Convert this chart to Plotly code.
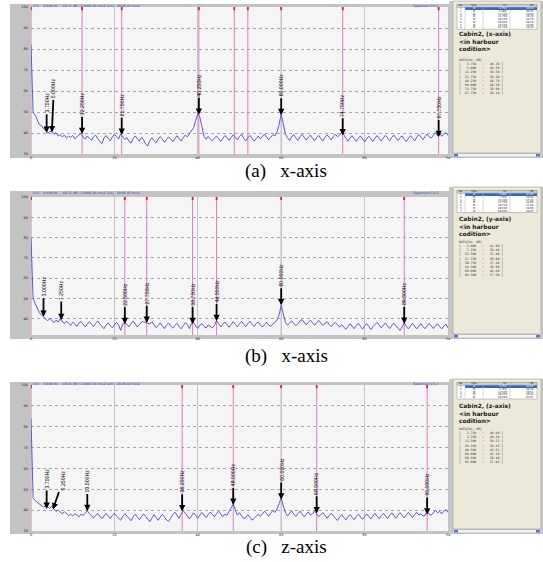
import plotly.graph_objects as go

# ---------------- data ----------------
BIN_HZ = 0.5  # analyser line spacing (Hz)

SPEC_A_DB = [
    82.0, 50.0, 48.5, 46.5, 44.0, 43.5, 42.0, 41.5, 39.8, 40.6,
    40.9, 39.4, 40.2, 38.6, 39.3, 38.1, 39.0, 37.6, 38.5, 37.9,
    38.8, 37.2, 38.4, 39.1, 39.8, 38.0, 37.1, 38.6, 37.4, 36.5,
    38.2, 39.0, 37.3, 35.8, 34.9, 37.6, 38.8, 37.5, 36.2, 38.1,
    39.4, 38.3, 37.1, 39.6, 38.5, 36.9, 37.8, 36.0, 35.2, 37.4,
    38.6, 37.3, 36.1, 37.9, 36.8, 34.6, 33.8, 36.5, 37.7, 36.4,
    35.3, 37.2, 38.3, 37.0, 35.6, 36.9, 38.1, 37.2, 35.9, 37.3,
    38.7, 37.4, 36.2, 37.8, 39.0, 38.2, 39.5, 40.8, 42.6, 46.0,
    49.2, 47.5, 42.0, 38.3, 37.0, 38.4, 37.1, 36.3, 37.6, 38.5,
    37.2, 36.0, 37.4, 38.8, 37.9, 36.5, 37.8, 39.2, 38.0, 36.7,
    38.3, 39.4, 37.6, 36.2, 37.7, 38.9, 37.5, 36.1, 37.3, 38.6,
    37.2, 38.4, 39.5, 38.1, 36.8, 38.0, 39.2, 38.6, 40.5, 44.0,
    49.0, 44.5, 39.6, 37.8, 36.4, 38.1, 39.3, 37.7, 36.5, 38.2,
    39.4, 38.0, 36.6, 37.9, 39.0, 37.6, 36.3, 37.8, 38.9, 37.4,
    36.2, 37.9, 39.1, 38.0, 36.7, 38.3, 39.4, 38.2, 39.0, 40.3,
    39.2, 37.5, 36.1, 37.6, 38.7, 37.3, 36.0, 37.4, 38.6, 37.1,
    35.8, 37.3, 38.5, 37.2, 36.0, 37.5, 38.8, 37.4, 36.2, 37.7,
    38.9, 37.6, 36.3, 37.9, 39.0, 37.7, 36.4, 37.8, 38.6, 37.0,
    35.9, 37.4, 38.7, 37.5, 36.2, 38.0, 39.3, 38.1, 36.8, 38.3,
    39.5, 38.2, 37.6, 39.0, 40.1, 38.6, 39.8, 38.4, 39.6, 40.2,
    38.8,
]

SPEC_B_DB = [
    80.0, 50.0, 47.5, 45.0, 43.0, 41.8, 41.0, 40.2, 39.0, 40.4,
    39.1, 38.0, 39.3, 38.4, 40.0, 38.7, 37.5, 38.9, 37.6, 36.8,
    38.3, 37.5, 36.2, 37.8, 38.6, 37.0, 36.0, 37.4, 38.5, 37.3,
    36.1, 37.7, 38.9, 37.4, 36.0, 35.1, 36.8, 38.0, 36.7, 35.5,
    36.9, 38.2, 37.0, 34.2, 37.5, 37.6, 37.3, 36.0, 37.6, 38.9,
    37.5, 35.9, 37.2, 38.4, 38.6, 38.2, 37.6, 37.4, 38.5, 37.0,
    35.6, 36.8, 38.0, 36.5, 35.2, 36.9, 37.9, 36.4, 35.4, 36.7,
    37.8, 36.3, 35.0, 36.6, 38.0, 37.2, 35.1, 37.8, 38.2, 36.4,
    35.3, 36.9, 37.6, 36.2, 35.4, 37.0, 36.1, 35.5, 36.8, 39.2,
    37.5, 36.0, 37.3, 38.4, 37.1, 35.8, 37.2, 38.5, 37.2, 36.0,
    37.5, 38.7, 37.4, 36.1, 37.6, 38.8, 37.3, 36.2, 37.7, 38.4,
    37.0, 35.9, 37.2, 38.3, 37.0, 36.2, 37.5, 38.1, 39.4, 42.0,
    46.6, 42.5, 38.3, 36.8, 37.9, 39.0, 37.8, 36.5, 37.6, 38.9,
    39.6, 38.3, 37.0, 38.2, 39.3, 38.0, 36.8, 38.1, 39.2, 37.9,
    36.7, 37.8, 38.6, 37.2, 36.1, 37.3, 38.2, 37.0, 35.9, 37.1,
    36.0, 34.8, 36.2, 37.5, 36.4, 35.1, 36.6, 37.8, 36.3, 34.9,
    36.4, 37.6, 36.2, 34.7, 36.1, 37.4, 38.3, 36.9, 35.5, 36.8,
    37.9, 36.5, 35.2, 36.6, 37.8, 36.6, 35.3, 34.2, 36.0, 38.0,
    36.3, 35.0, 36.5, 37.7, 36.3, 35.0, 36.4, 37.6, 36.2, 35.1,
    36.5, 37.7, 36.4, 35.2, 36.6, 37.5, 36.1, 35.0, 36.4, 37.4,
    35.5,
]

SPEC_C_DB = [
    84.0, 46.0, 44.5, 43.8, 43.0, 42.2, 41.5, 42.0, 41.6, 40.8,
    41.9, 40.5, 39.4, 40.1, 39.0, 38.2, 39.3, 38.5, 37.4, 38.0,
    37.2, 38.3, 37.5, 36.8, 38.1, 37.4, 38.6, 39.7, 38.4, 37.0,
    36.2, 37.5, 38.3, 37.1, 35.9, 37.2, 38.4, 37.3, 36.0, 37.4,
    38.5, 37.1, 36.0, 35.2, 37.0, 38.3, 37.2, 35.8, 34.9, 36.8,
    38.0, 36.6, 35.4, 36.9, 38.2, 37.0, 35.6, 34.4, 36.2, 37.8,
    36.5, 35.1, 36.7, 38.0, 36.8, 35.3, 34.6, 36.4, 37.9, 39.0,
    37.6, 36.2, 38.0, 39.8, 38.5, 37.0, 35.8, 37.3, 38.7, 37.5,
    36.1, 37.6, 38.9, 37.7, 36.4, 37.9, 39.1, 38.0, 36.8, 38.3,
    39.5, 38.2, 36.9, 38.1, 37.6, 39.4, 41.2, 42.8, 40.1, 37.6,
    38.8, 37.4, 35.9, 36.4, 37.8, 36.6, 35.2, 36.0, 37.3, 38.1,
    37.0, 38.4, 39.5, 38.3, 37.1, 38.6, 39.8, 38.9, 40.6, 43.2,
    45.8, 42.0, 39.0, 37.2, 38.5, 39.6, 38.2, 37.0, 38.4, 39.5,
    38.1, 36.8, 38.0, 39.1, 37.6, 38.2, 39.6, 38.4, 36.9, 37.8,
    38.8, 37.5, 36.1, 37.4, 38.5, 37.2, 35.9, 35.0, 36.6, 37.9,
    36.5, 35.3, 36.8, 37.9, 36.6, 35.4, 36.9, 38.1, 36.8, 35.6,
    37.0, 38.2, 37.0, 35.8, 37.2, 38.4, 37.1, 35.9, 37.4, 38.5,
    37.2, 36.0, 37.5, 38.7, 37.4, 36.1, 37.6, 38.8, 37.5, 36.3,
    37.7, 38.9, 37.6, 36.4, 37.9, 39.0, 37.7, 38.3, 37.1, 37.6,
    39.2, 38.0, 37.6, 38.9, 40.0, 38.7, 39.4, 38.2, 39.6, 40.3,
    38.9,
]

A_MARK_HZ = [3.750, 5.000, 12.250, 21.750, 40.250, 60.000, 74.750, 97.750]
A_MARK_DB = [40.10, 40.30, 39.50, 39.20, 48.70, 48.50, 38.90, 38.10]
A_LINES_HZ = [0.0, 12.25, 21.75, 40.25, 48.75, 52.0, 60.0, 74.75, 97.75]

B_MARK_HZ = [3.000, 7.250, 22.500, 27.750, 38.750, 44.500, 60.000, 89.500]
B_MARK_DB = [41.00, 39.40, 37.40, 38.00, 37.40, 38.90, 46.60, 37.50]
B_LINES_HZ = [0.0, 22.5, 27.75, 38.75, 44.5, 60.0, 89.5]

C_MARK_HZ = [3.750, 5.250, 13.500, 36.250, 48.500, 60.000, 68.500, 95.000]
C_MARK_DB = [40.60, 40.30, 39.53, 39.43, 42.51, 45.10, 38.48, 37.93]
C_LINES_HZ = [0.0, 36.25, 48.5, 60.0, 68.5, 95.0]

TITLES = ["Cabin2, (x-axis)", "Cabin2, (y-axis)", "Cabin2, (z-axis)"]
CAPTIONS = ["(a)\u00a0\u00a0\u00a0x-axis", "(b)\u00a0\u00a0\u00a0x-axis", "(c)\u00a0\u00a0\u00a0z-axis"]
TABLE_ROWS = [8, 7, 5]
X_TICKS = [0, 20, 40, 60, 80, 100]
X_TICK_TEXT = ["0", "20", "40", "60", "80", "Hz"]
Y_TICKS = [30, 40, 50, 60, 70, 80, 90, 100]
Y_TICK_TEXT = ["30", "40", "50", "60", "70", "80", "90", "100"]

SPECS = [SPEC_A_DB, SPEC_B_DB, SPEC_C_DB]
MARKS = [(A_MARK_HZ, A_MARK_DB), (B_MARK_HZ, B_MARK_DB), (C_MARK_HZ, C_MARK_DB)]
LINES = [A_LINES_HZ, B_LINES_HZ, C_LINES_HZ]

# ---------------- layout geometry (pixels) ----------------
W, H = 543, 562


def PX(x):
    return x / W


def PY(y):
    return 1 - y / H


PANELS = [
    dict(frame=(10, 4, 449, 158), plot=(31, 7, 448, 154), yr=(30, 100), side=(453, 1, 541, 158), cap=171,
         title_top=30.5, data_top=56.5),
    dict(frame=(10, 191, 449, 339), plot=(31, 197, 448, 335), yr=(32, 100), side=(453, 187, 541, 339), cap=356,
         title_top=215, data_top=239),
    dict(frame=(10, 382, 449, 534), plot=(31, 385, 448, 531), yr=(30, 100), side=(453, 379, 541, 534), cap=547,
         title_top=401.5, data_top=425.5),
]
LABEL_SHIFT = {(0, 1): (2, -44), (2, 1): (10, -29)}

fig = go.Figure()
shapes = []
annots = []

for k, P in enumerate(PANELS):
    sfx = "" if k == 0 else str(k + 1)
    xr, yr_ = "x" + sfx, "y" + sfx
    spec = SPECS[k]
    freqs = [i * BIN_HZ for i in range(len(spec))]

    fx0, fy0, fx1, fy1 = P["frame"]
    px0, py0, px1, py1 = P["plot"]
    # gray analyser frame and light plot area
    shapes.append(dict(type="rect", xref="paper", yref="paper", x0=PX(fx0), x1=PX(fx1), y0=PY(fy1), y1=PY(fy0),
                       fillcolor="#c3c3c3", line=dict(width=0), layer="below"))
    shapes.append(dict(type="rect", xref="paper", yref="paper", x0=PX(px0), x1=PX(px1), y0=PY(py1), y1=PY(py0),
                       fillcolor="#f5f5f5", line=dict(width=0), layer="below"))

    # marker lines
    for f in LINES[k]:
        shapes.append(dict(type="line", xref=xr, yref=yr_ + " domain", x0=f, x1=f, y0=0, y1=1,
                           line=dict(color="#de7cbe", width=1), layer="below"))
        shapes.append(dict(type="line", xref=xr, yref=yr_ + " domain", x0=f, x1=f, y0=0.978, y1=1,
                           line=dict(color="#d02040", width=1.8), layer="above"))

    fig.add_trace(go.Scatter(x=freqs, y=spec, mode="lines", xaxis=xr, yaxis=yr_,
                             line=dict(color="#5a5ad8", width=1), showlegend=False, hoverinfo="skip"))

    fig.layout["xaxis" + sfx] = dict(
        domain=[PX(px0), PX(px1)], range=[0, 100], anchor=yr_, tickvals=X_TICKS, ticktext=X_TICK_TEXT,
        showgrid=True, gridcolor="#c4c4c4", gridwidth=1, zeroline=False, showline=False, ticks="",
        automargin=False,
        tickfont=dict(size=3.5, color="#222", family="DejaVu Sans"), ticklabelstandoff=0, fixedrange=True)
    fig.layout["yaxis" + sfx] = dict(
        domain=[PY(py1), PY(py0)], range=list(P["yr"]), anchor=xr, tickvals=Y_TICKS, ticktext=Y_TICK_TEXT,
        showgrid=True, gridcolor="#a8a8a8", griddash="dot", gridwidth=1, zeroline=False, showline=False,
        ticks="", automargin=False,
        tickfont=dict(size=3.5, color="#222", family="DejaVu Sans"), ticklabelstandoff=2,
        fixedrange=True)

    # marker labels with arrows
    mhz, mdb = MARKS[k]
    for j, (f, d) in enumerate(zip(mhz, mdb)):
        ax, ay = LABEL_SHIFT.get((k, j), (0, -30))
        annots.append(dict(x=f, y=d, xref=xr, yref=yr_, text=f"{f:.3f}Hz", textangle=-90,
                           showarrow=True, arrowhead=2, arrowsize=0.7, arrowwidth=1.8, arrowcolor="#000",
                           ax=ax, ay=ay, standoff=0, startstandoff=0,
                           font=dict(size=5.2, color="#000", family="Liberation Sans Narrow, Liberation Sans")))

    # header strip texts
    annots.append(dict(x=PX(31), y=PY(fy0 + 1.6), xref="paper", yref="paper", xanchor="left", yanchor="middle",
                       showarrow=False,
                       text="Ch1\u00a0\u00a0\u00a0\u00a00.000 Hz\u00a0\u00a0\u00a0\u00a0-69.31 dB / 1.000E-06 m/s2 (Lin)\u00a0\u00a0\u00a029.9E-03 m/s2",
                       font=dict(size=3.2, color="#2a3fcf", family="DejaVu Sans")))
    annots.append(dict(x=PX(440), y=PY(fy0 + 1.6), xref="paper", yref="paper", xanchor="right", yanchor="middle",
                       showarrow=False, text="Spectrum Ch.1",
                       font=dict(size=3.4, color="#2a3fcf", family="DejaVu Sans")))

    # side panel
    sx0, sy0, sx1, sy1 = P["side"]
    shapes.append(dict(type="rect", xref="paper", yref="paper", x0=PX(449), x1=PX(W), y0=PY(sy1), y1=PY(sy0),
                       fillcolor="#c8c8c8", line=dict(width=0), layer="below"))
    shapes.append(dict(type="rect", xref="paper", yref="paper", x0=PX(sx0), x1=PX(sx1), y0=PY(sy1 - 5),
                       y1=PY(sy0), fillcolor="#ece9d8", line=dict(color="#a0a0a0", width=0.6), layer="below"))
    # scrollbar
    shapes.append(dict(type="rect", xref="paper", yref="paper", x0=PX(sx0), x1=PX(sx1), y0=PY(sy1 - 1),
                       y1=PY(sy1 - 4.5), fillcolor="#f2f2f2", line=dict(color="#9a9a9a", width=0.5), layer="below"))
    for bx in (sx0 + 1, sx1 - 5):
        shapes.append(dict(type="rect", xref="paper", yref="paper", x0=PX(bx), x1=PX(bx + 4), y0=PY(sy1 - 1.5),
                           y1=PY(sy1 - 4), fillcolor="#4d78d0", line=dict(width=0), layer="below"))

    # table
    cols = [457, 465, 483, 510, 537]
    rows = TABLE_ROWS[k]
    rh = 2.75
    t0 = sy0 + 3.5
    shapes.append(dict(type="rect", xref="paper", yref="paper", x0=PX(cols[0]), x1=PX(cols[-1]),
                       y0=PY(t0 + rh * (rows + 1)), y1=PY(t0), fillcolor="#ffffff",
                       line=dict(color="#909090", width=0.5), layer="below"))
    shapes.append(dict(type="rect", xref="paper", yref="paper", x0=PX(cols[0]), x1=PX(cols[-1]),
                       y0=PY(t0 + rh), y1=PY(t0), fillcolor="#d4d0c8",
                       line=dict(color="#909090", width=0.5), layer="below"))
    shapes.append(dict(type="rect", xref="paper", yref="paper", x0=PX(cols[1]), x1=PX(cols[-1]),
                       y0=PY(t0 + 2 * rh), y1=PY(t0 + rh), fillcolor="#316ac5",
                       line=dict(width=0), layer="below"))
    for cx in cols[1:-1]:
        shapes.append(dict(type="line", xref="paper", yref="paper", x0=PX(cx), x1=PX(cx),
                           y0=PY(t0 + rh * (rows + 1)), y1=PY(t0), line=dict(color="#b0b0b0", width=0.5),
                           layer="below"))
    header = ["No", "Type", "Hz", "dB"]
    for r in range(rows + 1):
        if r == 0:
            cells = header
        else:
            cells = [str(r), "M", f"{mhz[r - 1]:.3f}", f"{mdb[r - 1]:.2f}"]
        for c in range(4):
            col = "#ffffff" if (r == 1 and c > 0) else "#1a1a1a"
            annots.append(dict(x=PX((cols[c] + cols[c + 1]) / 2 if c < 2 else cols[c + 1] - 1),
                               y=PY(t0 + rh * (r + 0.5)), xref="paper", yref="paper",
                               xanchor="center" if c < 2 else "right", yanchor="middle", showarrow=False,
                               text=cells[c], font=dict(size=2.6, color=col, family="DejaVu Sans")))

    # title block (one text, three lines)
    ttl = "<br>".join([TITLES[k], "&lt;in harbour", "codition&gt;"])
    annots.append(dict(x=PX(458), y=PY(P["title_top"]), xref="paper", yref="paper", borderpad=0,
                       xanchor="left", yanchor="top", align="left", showarrow=False, text=ttl,
                       font=dict(size=5.9, color="#1a1a1a", family="DejaVu Sans", weight="bold")))
    # data list (one text block)
    lines = ["DATA[Hz, dB]"] + [f"[ {f:7.3f}   :  {d:6.2f} ]" for f, d in zip(mhz, mdb)]
    block = "<br>".join(s.replace(" ", "\u00a0") for s in lines)
    annots.append(dict(x=PX(458), y=PY(P["data_top"]), xref="paper", yref="paper", xanchor="left",
                       yanchor="top", align="left", showarrow=False, text=block, borderpad=0,
                       font=dict(size=3.2, color="#333", family="DejaVu Sans Mono")))

    # caption
    annots.append(dict(x=PX(286), y=PY(P["cap"]), xref="paper", yref="paper", xanchor="center",
                       yanchor="middle", showarrow=False, text=CAPTIONS[k],
                       font=dict(size=19, color="#000", family="Liberation Serif, Times New Roman, serif")))

fig.update_layout(
    template="none",
    width=W, height=H, margin=dict(l=0, r=0, t=0, b=0, autoexpand=False),
    paper_bgcolor="#ffffff", plot_bgcolor="rgba(0,0,0,0)",
    shapes=shapes, annotations=annots, showlegend=False,
)

fig.write_html("out.html", config={"displayModeBar": False, "staticPlot": True},
               post_script="document.body.style.margin='0px';document.body.style.overflow='hidden';")
